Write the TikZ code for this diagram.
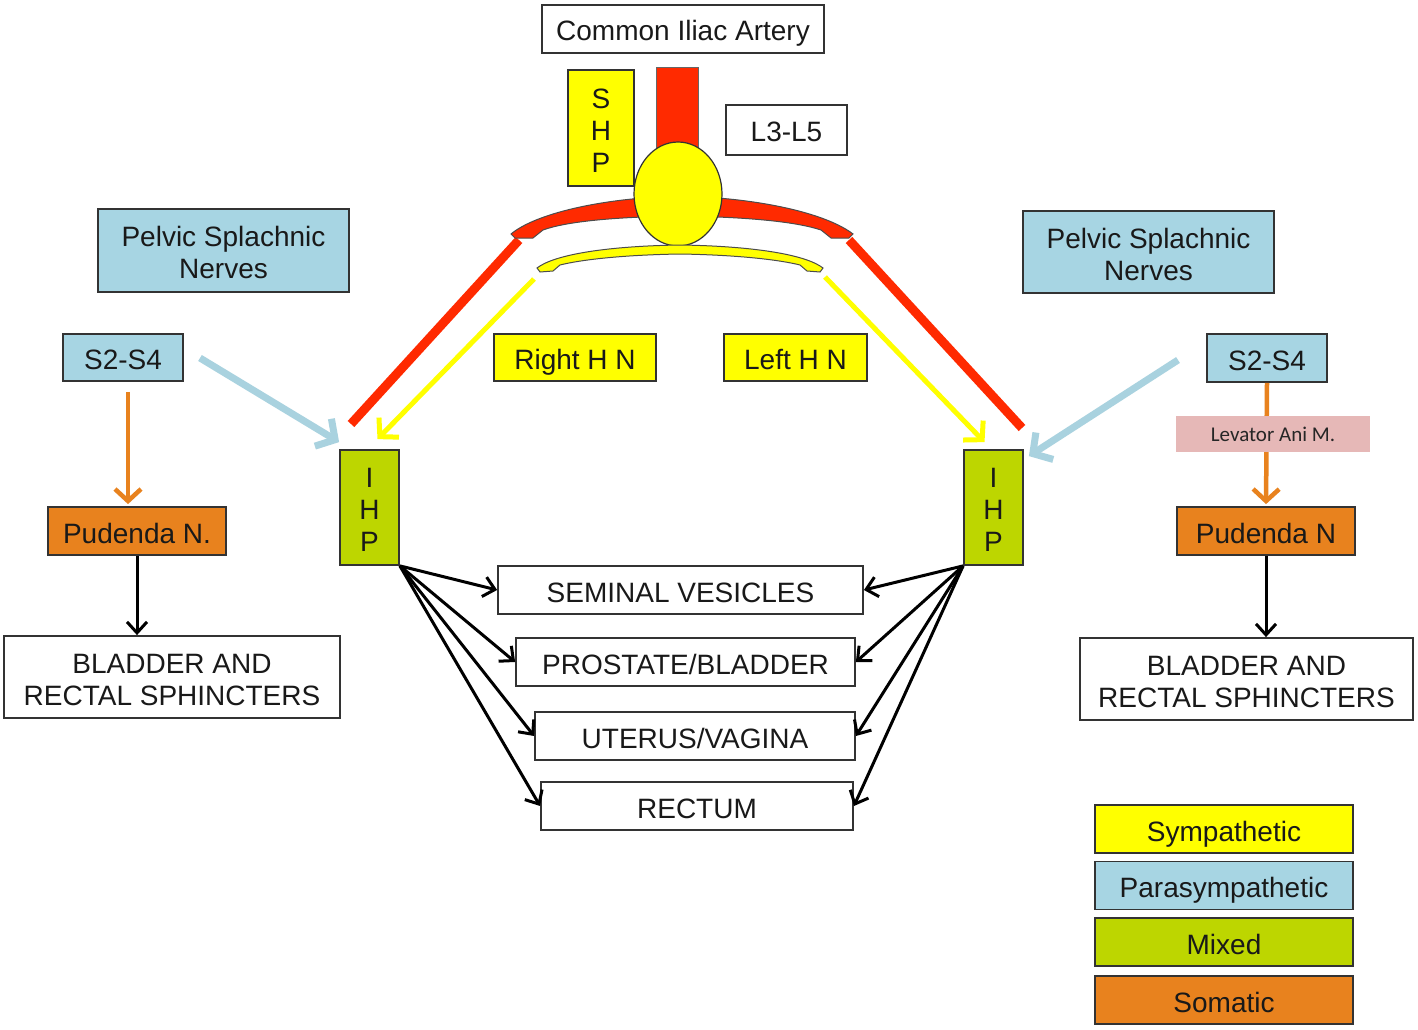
\documentclass[tikz,border=0pt]{standalone}
\usepackage{fontspec}
\setmainfont{Liberation Sans}
\newfontfamily\calib{Carlito}
\usetikzlibrary{arrows.meta,shapes.geometric}
\definecolor{cyel}{HTML}{FFFF00}
\definecolor{cred}{HTML}{FF2A00}
\definecolor{cblue}{HTML}{A7D5E3}
\definecolor{cablue}{HTML}{A9D2DF}
\definecolor{cgreen}{HTML}{BDD600}
\definecolor{corange}{HTML}{E8821E}
\definecolor{cpink}{HTML}{E6B8B7}
\begin{document}
\begin{tikzpicture}[x=1pt,y=-1pt,
  box/.style={draw=black!80, line width=1.8pt, inner sep=0pt, align=center,
    font=\fontsize{28}{32}\selectfont, text=black!90, text height=26pt, text depth=2pt},
  twoline/.style={text height=58pt},
  threeline/.style={text height=90pt},
  sz/.style 2 args={minimum width=#1pt, minimum height=#2pt},
  blk/.style={draw=black, line width=3pt, -{Straight Barb[length=11pt,width=20pt,line width=3pt]}},
  oarrow/.style={draw=corange, line width=4.5pt, -{Straight Barb[length=12pt,width=26pt,line width=4.5pt]}},
  yarrow/.style={draw=cyel, line width=5pt, -{Straight Barb[length=13pt,width=28pt,line width=5pt]}},
  barrow/.style={draw=cablue, line width=7pt, -{Straight Barb[length=14pt,width=32pt,line width=7pt]}},
  redline/.style={draw=cred, line width=9pt}]
\useasboundingbox (0,0) rectangle (1418,1030);
\fill[white] (0,0) rectangle (1418,1030);

% top nodes
\node[box, sz={282}{48}] (cia) at (683,29) {Common Iliac Artery};
\node[box, threeline, sz={66}{116}, fill=cyel] (shp) at (601,128) {S\\H\\P};
\node[box, sz={121}{50}] (l35) at (786.5,130) {L3-L5};

% red vertical bar
\filldraw[fill=cred, draw=black!60, line width=0.8pt] (656,67) rectangle (698,170);

% red diagonal lines
\coordinate (rL1) at (519,240);
\coordinate (rL2) at (351,424);
\coordinate (rR1) at (849,240);
\coordinate (rR2) at (1022,428);
\draw[redline] (rL1) -- (rL2);
\draw[redline] (rR1) -- (rR2);

% red arch
\filldraw[fill=cred, draw=black!70, line width=1pt]
  (511,234) .. controls (535,214) and (600,198) .. (680,196)
  .. controls (762,198) and (827,214) .. (853,234)
  -- (849,238) -- (831,238) -- (821,230)
  .. controls (797,222) and (750,217) .. (680,216)
  .. controls (610,217) and (565,222) .. (543,230)
  -- (533,238) -- (515,238) -- cycle;

% ellipse
\node[ellipse, draw=black!80, line width=1.2pt, fill=cyel, minimum width=88pt, minimum height=104pt, inner sep=0pt] (gang) at (678,194) {};

% yellow arc
\filldraw[fill=cyel, draw=black!70, line width=1pt]
  (537,268) .. controls (555,254) and (610,246) .. (680,245)
  .. controls (750,246) and (805,254) .. (823,268)
  -- (820,272) -- (807,271) -- (800,265)
  .. controls (780,260) and (740,255) .. (680,254)
  .. controls (620,255) and (580,260) .. (560,265)
  -- (553,271) -- (540,272) -- cycle;

% side nodes
\node[box, twoline, sz={251}{83}, fill=cblue] (psnL) at (223.5,250.5) {Pelvic Splachnic\\Nerves};
\node[box, twoline, sz={251}{82}, fill=cblue] (psnR) at (1148.5,252) {Pelvic Splachnic\\Nerves};
\node[box, sz={120}{47}, fill=cblue] (s24L) at (123,357.5) {S2-S4};
\node[box, sz={120}{48}, fill=cblue] (s24R) at (1267,358) {S2-S4};
\node[box, sz={162}{47}, fill=cyel] (rhn) at (575,357.5) {Right H N};
\node[box, sz={143}{47}, fill=cyel] (lhn) at (795.5,357.5) {Left H N};
\node[box, threeline, sz={59}{115}, fill=cgreen] (ihpL) at (369.5,507.5) {I\\H\\P};
\node[box, threeline, sz={59}{115}, fill=cgreen] (ihpR) at (993.5,507.5) {I\\H\\P};
\node[box, sz={178}{48}, fill=corange] (pudL) at (137,531) {Pudenda N.};
\node[box, sz={178}{48}, fill=corange] (pudR) at (1266,531) {Pudenda N};
\node[box, twoline, sz={336}{82}] (blL) at (172,677) {BLADDER AND\\RECTAL SPHINCTERS};
\node[box, twoline, sz={333}{82}] (blR) at (1246.5,679) {BLADDER AND\\RECTAL SPHINCTERS};

% organs
\node[box, sz={365}{48}] (sv) at (680.5,590) {SEMINAL VESICLES};
\node[box, sz={339}{48}] (pb) at (685.5,662) {PROSTATE/BLADDER};
\node[box, sz={320}{48}] (uv) at (695,736) {UTERUS/VAGINA};
\node[box, sz={312}{48}] (rec) at (697,806) {RECTUM};

% legend
\node[box, sz={258}{48}, fill=cyel] (lg1) at (1224,829) {Sympathetic};
\node[box, sz={258}{48}, fill=cblue] (lg2) at (1224,885.5) {Parasympathetic};
\node[box, sz={258}{48}, fill=cgreen] (lg3) at (1224,942) {Mixed};
\node[box, sz={258}{48}, fill=corange] (lg4) at (1224,1000) {Somatic};

% yellow arrows
\coordinate (yL1) at (534,279);
\coordinate (yR1) at (825,277);
\draw[yarrow] (yL1) -- ([xshift=8pt,yshift=10pt]ihpL.north);
\draw[yarrow] (yR1) -- ([xshift=-9pt,yshift=7pt]ihpR.north);

% blue arrows
\coordinate (bL1) at (200,358);
\coordinate (bR1) at (1178,360);
\draw[barrow] (bL1) -- ([yshift=7pt]ihpL.north west);
\draw[barrow] (bR1) -- ([xshift=5pt,yshift=-7pt]ihpR.north east);

% left somatic chain
\draw[oarrow] ([xshift=5pt,yshift=-10pt]s24L.south) -- ([xshift=-9pt,yshift=2pt]pudL.north);
\draw[blk] (pudL.south) -- (pudL.south |- blL.north);

% right somatic chain
\draw[oarrow] (s24R.south) -- ([yshift=2pt]pudR.north);
\node[fill=cpink, minimum width=194pt, minimum height=36pt, inner sep=0pt,
  font=\calib\fontsize{21}{24}\selectfont, text=black!85] (lev) at (1273,434) {Levator Ani M.};
\draw[blk] (pudR.south) -- (pudR.south |- blR.north);

% IHP to organs
\foreach \t in {sv,pb,uv,rec}{
  \draw[blk] (ihpL.south east) -- (\t.west);
  \draw[blk] (ihpR.south west) -- (\t.east);
}
\end{tikzpicture}
\end{document}
